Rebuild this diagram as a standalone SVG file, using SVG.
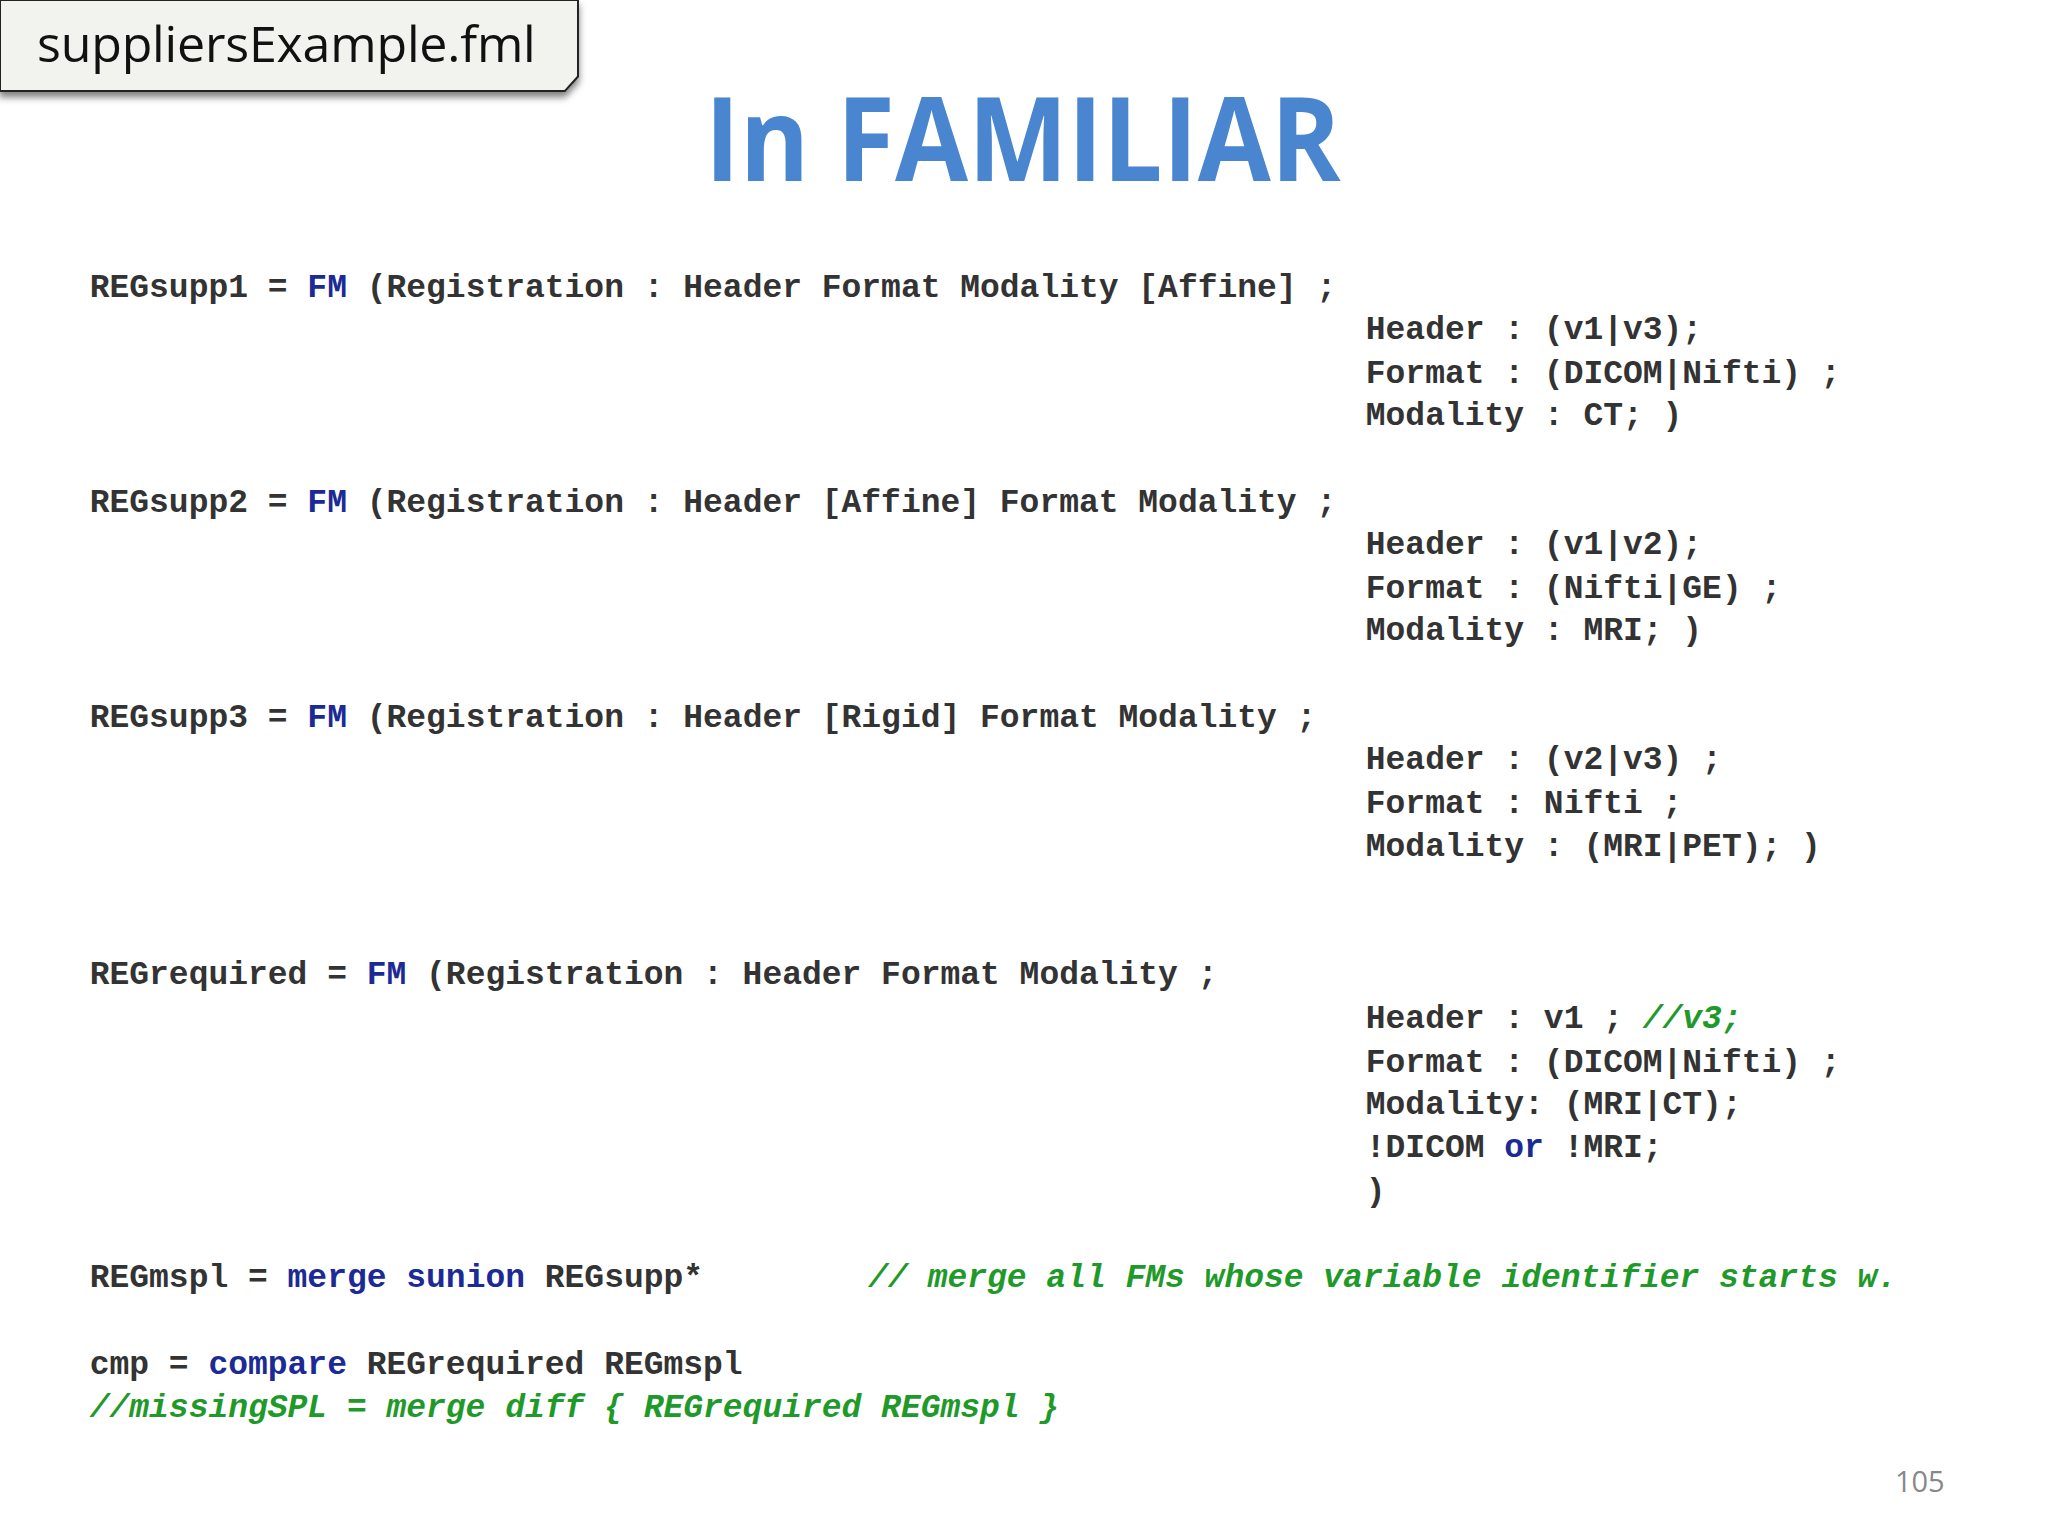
<svg xmlns="http://www.w3.org/2000/svg" width="2048" height="1536" viewBox="0 0 2048 1536">
<style>
.c{font-family:"Liberation Mono","Courier New",monospace;font-size:25px;font-weight:bold;fill:#333;white-space:pre}
.k{fill:#1c2a96}
.g{fill:#1f9a2a;font-style:italic}
</style>
<defs><filter id="sh" x="-10%" y="-10%" width="130%" height="150%"><feDropShadow dx="0" dy="4" stdDeviation="3" flood-color="#000" flood-opacity="0.5"/></filter></defs>
<rect width="2048" height="1536" fill="#fff"/>
<g transform="scale(1.3196)">
<g id="tab">
<path d="M0,0 H438 V58 L428,69 H0 Z" fill="#f2f2ef" stroke="#222" stroke-width="1.5" filter="url(#sh)"/>
<text x="28" y="47" font-family="Open Sans,Liberation Sans,sans-serif" font-size="38" fill="#111" textLength="378">suppliersExample.fml</text>
</g>
<text id="title" x="534" y="137" font-family="Open Sans,Liberation Sans,sans-serif" font-weight="bold" font-size="88" fill="#4a86d0" textLength="482" lengthAdjust="spacingAndGlyphs">In FAMILIAR</text>
<g id="code">
<text class="c" x="68" y="225">REGsupp1 = <tspan class="k">FM</tspan> (Registration : Header Format Modality [Affine] ;</text>
<text class="c" x="1035" y="257">Header : (v1|v3);</text>
<text class="c" x="1035" y="290">Format : (DICOM|Nifti) ;</text>
<text class="c" x="1035" y="322">Modality : CT; )</text>
<text class="c" x="68" y="388">REGsupp2 = <tspan class="k">FM</tspan> (Registration : Header [Affine] Format Modality ;</text>
<text class="c" x="1035" y="420">Header : (v1|v2);</text>
<text class="c" x="1035" y="453">Format : (Nifti|GE) ;</text>
<text class="c" x="1035" y="485">Modality : MRI; )</text>
<text class="c" x="68" y="551">REGsupp3 = <tspan class="k">FM</tspan> (Registration : Header [Rigid] Format Modality ;</text>
<text class="c" x="1035" y="583">Header : (v2|v3) ;</text>
<text class="c" x="1035" y="616">Format : Nifti ;</text>
<text class="c" x="1035" y="649">Modality : (MRI|PET); )</text>
<text class="c" x="68" y="746">REGrequired = <tspan class="k">FM</tspan> (Registration : Header Format Modality ;</text>
<text class="c" x="1035" y="779">Header : v1 ; <tspan class="g">//v3;</tspan></text>
<text class="c" x="1035" y="812">Format : (DICOM|Nifti) ;</text>
<text class="c" x="1035" y="844">Modality: (MRI|CT);</text>
<text class="c" x="1035" y="877">!DICOM <tspan class="k">or</tspan> !MRI;</text>
<text class="c" x="1035" y="910">)</text>
<text class="c" x="68" y="975">REGmspl = <tspan class="k">merge sunion</tspan> REGsupp*</text>
<text class="c g" x="658" y="975">// merge all FMs whose variable identifier starts w.</text>
<text class="c" x="68" y="1041">cmp = <tspan class="k">compare</tspan> REGrequired REGmspl</text>
<text class="c g" x="68" y="1074">//missingSPL = merge diff { REGrequired REGmspl }</text>
</g>
<text id="page" x="1436" y="1131" font-family="Open Sans,Liberation Sans,sans-serif" font-size="22" fill="#888">105</text>
</g>
</svg>
